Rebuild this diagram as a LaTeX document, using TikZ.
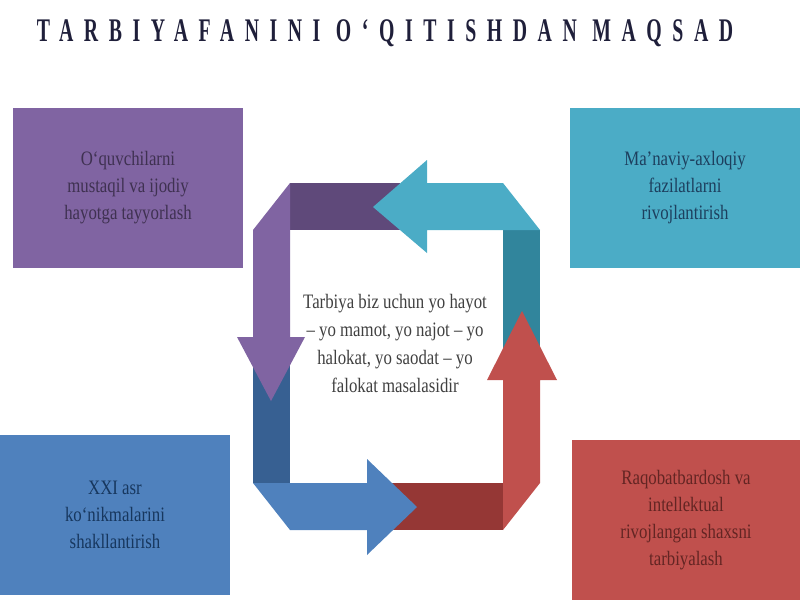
\documentclass[tikz,border=0pt]{standalone}
\usepackage{fontspec}
\setmainfont{Liberation Serif}
\newfontfamily\boxfont[FakeStretch=0.82]{Liberation Serif}
\newfontfamily\titlefont[FakeStretch=0.6,LetterSpace=32]{Liberation Serif}

\definecolor{purplebox}{HTML}{8064A2}
\definecolor{purpledark}{HTML}{5F497A}
\definecolor{purpletext}{HTML}{3F3151}
\definecolor{tealbox}{HTML}{4BACC6}
\definecolor{tealdark}{HTML}{31859C}
\definecolor{tealtext}{HTML}{1D3F5E}
\definecolor{bluebox}{HTML}{4F81BD}
\definecolor{bluedark}{HTML}{376092}
\definecolor{bluetext}{HTML}{17375E}
\definecolor{redbox}{HTML}{C0504D}
\definecolor{reddark}{HTML}{953735}
\definecolor{redtext}{HTML}{632523}
\definecolor{titleink}{HTML}{1F1F3A}

\begin{document}
\begin{tikzpicture}[%
        x = 1pt,
        y = -1pt,
        infobox/.style = {
            minimum width = 230pt,
            minimum height = 160pt,
            inner sep = 0,
            align = center,
            font = \boxfont\fontsize{20.5}{27}\selectfont
        },
        mottotext/.style = {
            align = center,
            text = black!75,
            font = \boxfont\fontsize{20.5}{28}\selectfont
        }
    ]

        % Page frame.
        \useasboundingbox (0,0) rectangle (800,600);

        % Heading.
        \node[text = titleink, font = \titlefont\bfseries\fontsize{33}{33}\selectfont]
            at (385,33) (title) {TARBIYAFANINI O‘QITISHDAN MAQSAD};

        % The four coloured boxes.
        \node[infobox, fill = purplebox, text = purpletext] at (128,188) (aim1)
            {O‘quvchilarni\\mustaqil va ijodiy\\hayotga tayyorlash};
        \node[infobox, fill = tealbox, text = tealtext] at (685,188) (aim2)
            {Ma’naviy-axloqiy\\fazilatlarni\\rivojlantirish};
        \node[infobox, fill = bluebox, text = bluetext] at (115,515) (aim3)
            {XXI asr\\ko‘nikmalarini\\shakllantirish};
        \node[infobox, fill = redbox, text = redtext, minimum width = 228pt] at (686,520) (aim4)
            {Raqobatbardosh va\\intellektual\\rivojlangan shaxsni\\tarbiyalash};

        % Tails of the cycle arrows.
        \fill[tealdark]   (503,230) rectangle (540,360);
        \fill[purpledark] (290,183) rectangle (400,230);
        \fill[bluedark]   (253,360) rectangle (290,483);
        \fill[reddark]    (390,483) rectangle (503,530);

        % Corners and heads of the cycle arrows.
        \fill[tealbox] (540,230) -- (503,183) -- (427,183) -- (427,160)
              -- (373,207) -- (427,253) -- (427,230) -- (503,230) -- cycle;
        \fill[purplebox] (290,183) -- (253,230) -- (253,337) -- (237,337)
              -- (271,401) -- (305,337) -- (290,337) -- (290,230) -- cycle;
        \fill[bluebox] (253,483) -- (290,530) -- (367,530) -- (367,555)
              -- (417,507) -- (367,459) -- (367,483) -- (290,483) -- cycle;
        \fill[redbox] (503,530) -- (540,483) -- (540,380) -- (557,380)
              -- (522,311) -- (487,380) -- (503,380) -- (503,483) -- cycle;

        % Saying in the middle.
        \node[mottotext] at (395,343) (motto)
            {Tarbiya biz uchun yo hayot\\– yo mamot, yo najot – yo\\halokat, yo saodat – yo\\falokat masalasidir};
    \end{tikzpicture}
\end{document}
